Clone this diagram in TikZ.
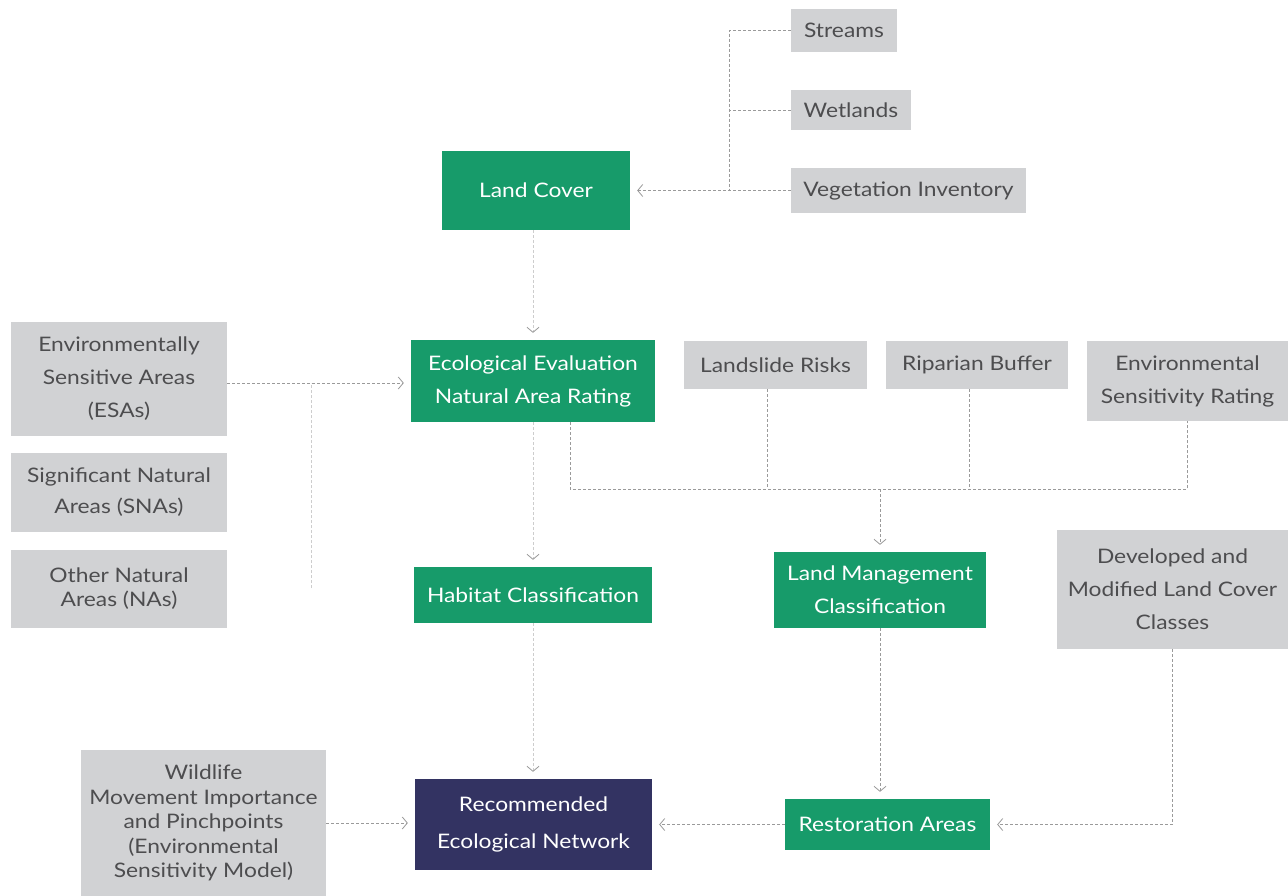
\documentclass[tikz,border=0pt]{standalone}
\usepackage{fontspec}
\setmainfont{Lato}[FakeStretch=1.14]
\usetikzlibrary{arrows.meta}
\definecolor{grn}{HTML}{179B6A}
\definecolor{gry}{HTML}{D1D2D4}
\definecolor{navy}{HTML}{333362}
\definecolor{txt}{HTML}{4D4D4F}
\definecolor{ln}{HTML}{9A9A9A}
\definecolor{lnl}{HTML}{CDCDCD}
\begin{document}
\begin{tikzpicture}[x=1pt,y=-1pt,
 box/.style={inner sep=0pt, align=center, font=\fontsize{20}{33}\selectfont},
 gbox/.style={box, fill=grn, text=white},
 ibox/.style={box, fill=gry, text=txt},
 nbox/.style={box, fill=navy, text=white},
 conn/.style={draw=ln, dash pattern=on 3pt off 2pt, line width=0.8pt},
 lconn/.style={draw=lnl, dash pattern=on 3pt off 2pt, line width=0.8pt},
 arr/.style={-{Straight Barb[length=5pt,width=12pt,line width=0.8pt,color=ln]}, shorten >=7pt}]
\useasboundingbox (0,0) rectangle (1288,896);
\fill[white] (0,0) rectangle (1288,896);

% boxes
\node[ibox, minimum width=106pt, minimum height=43pt] (streams) at (844,30.5) {Streams};
\node[ibox, minimum width=120pt, minimum height=40pt] (wet) at (851,110) {Wetlands};
\node[ibox, minimum width=235pt, minimum height=45pt] (veg) at (908.5,190.5) {Vegetation Inventory};
\node[gbox, minimum width=188pt, minimum height=79pt] (land) at (536,190.5) {Land Cover};
\node[gbox, minimum width=244pt, minimum height=82pt] (eco) at (533,381) {Ecological Evaluation\\Natural Area Rating};
\node[ibox, minimum width=183pt, minimum height=48pt] (slide) at (775.5,365) {Landslide Risks};
\node[ibox, minimum width=182pt, minimum height=48pt] (rip) at (977,365) {Riparian Buffer};
\node[ibox, minimum width=201pt, minimum height=80pt] (esr) at (1187.5,381) {Environmental\\Sensitivity Rating};
\node[ibox, minimum width=216pt, minimum height=114pt] (esa) at (119,379) {Environmentally\\Sensitive Areas\\(ESAs)};
\node[ibox, minimum width=216pt, minimum height=79pt, font=\fontsize{20}{31}\selectfont] (sna) at (119,492.5) {Significant Natural\\Areas (SNAs)};
\node[ibox, minimum width=216pt, minimum height=78pt, font=\fontsize{20}{24}\selectfont] (na) at (119,589) {Other Natural\\Areas (NAs)};
\node[gbox, minimum width=238pt, minimum height=56pt] (hab) at (533,595) {Habitat Classification};
\node[gbox, minimum width=212pt, minimum height=76pt] (lm) at (880,590) {Land Management\\Classification};
\node[ibox, minimum width=231pt, minimum height=119pt] (dev) at (1172.5,589.5) {Developed and\\Modified Land Cover\\Classes};
\node[ibox, minimum width=245pt, minimum height=146pt, font=\fontsize{20}{24.5}\selectfont] (wild) at (203.5,823) {Wildlife\\Movement Importance\\and Pinchpoints\\(Environmental\\Sensitivity Model)};
\node[nbox, minimum width=237pt, minimum height=91pt, font=\fontsize{20}{37}\selectfont] (rec) at (533.5,824.5) {Recommended\\Ecological Network};
\node[gbox, minimum width=205pt, minimum height=51pt] (rest) at (887.5,824.5) {Restoration Areas};

% junction coordinates
\coordinate (j1) at (729,190.5);
\coordinate (bus) at (880,489);
\coordinate (v1) at (311,588);
\coordinate (esaout) at ([yshift=-4pt]esa.east);

% connectors
\draw[conn] (streams.west) -| (j1);
\draw[conn] (wet.west) -- (wet.west -| j1);
\draw[conn, arr] (veg.west) -- (land.east);
\draw[lconn, arr] (land.south -| eco.north) -- (eco.north);
\draw[conn, arr] (esaout) -- (esaout -| eco.west);
\draw[lconn] (v1) -- (v1 |- esaout);
\draw[lconn, arr] (eco.south) -- (hab.north);
\draw[conn] ([xshift=37pt]eco.south) |- (esr.south |- bus) -- (esr.south);
\draw[conn] ([xshift=-8pt]slide.south) -- ([xshift=-8pt]slide.south |- bus);
\draw[conn] ([xshift=-8pt]rip.south) -- ([xshift=-8pt]rip.south |- bus);
\draw[conn, arr] (bus) -- (lm.north);
\draw[lconn, arr] (hab.south) -- (hab.south |- rec.north);
\draw[conn, arr] (lm.south) -- (lm.south |- rest.north);
\draw[conn, arr] (dev.south) |- (rest.east);
\draw[conn, arr] (rest.west) -- (rest.west -| rec.east);
\draw[conn, arr] (wild.east) -- (wild.east -| rec.west);
\end{tikzpicture}
\end{document}
